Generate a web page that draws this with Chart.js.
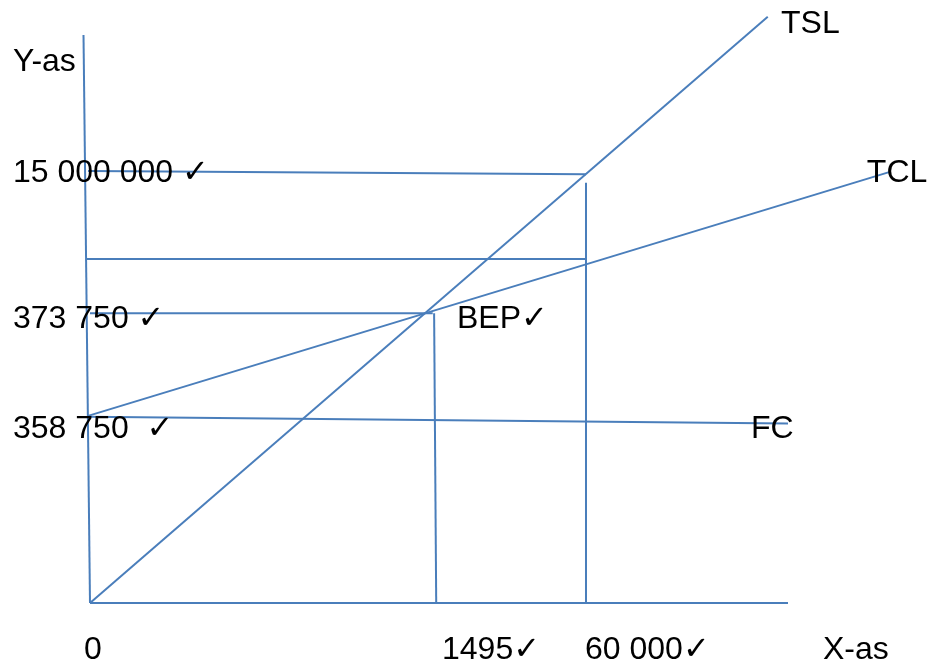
<!DOCTYPE html>
<html>
<head>
<meta charset="utf-8">
<script src="https://cdn.jsdelivr.net/npm/chart.js@4/dist/chart.umd.min.js"></script>
<style>
html,body{margin:0;padding:0;background:#fff;}
#c{display:block;}
</style>
</head>
<body>
<canvas id="c" width="931" height="668"></canvas>
<script>
// Diagram units: origin at the axes' corner, x axis runs to 100, y axis up to 100.
// Each line is [start, end] as [x, y] pairs.
const yAxisLine      = [[-0.93, 100.0], [0, 0]];
const xAxisLine      = [[0, 0], [100.0, 0]];
const tslLine        = [[0, 0], [97.1, 103.2]];
const tclLine        = [[-0.39, 32.9], [114.6, 75.9]];
const fcLine         = [[-0.29, 32.8], [100.0, 31.6]];
const salesLevelLine = [[-0.29, 76.06], [71.06, 75.5]];
const salesDropLine  = [[71.06, 74.0], [71.06, 0]];
const costLevelLine  = [[-0.57, 60.56], [71.06, 60.56]];
const bepLevelLine   = [[0, 51.0], [49.1, 51.0]];
const bepDropLine    = [[49.3, 51.0], [49.6, 0]];

const segments = [yAxisLine, xAxisLine, tslLine, tclLine, fcLine,
                  salesLevelLine, salesDropLine, costLevelLine, bepLevelLine, bepDropLine];

// Text labels and their anchors (left, baseline) in diagram units
const labelTexts   = ["Y-as", "15 000 000 \u2713", "373 750 \u2713", "358 750  \u2713", "BEP\u2713",
                      "FC", "TSL", "TCL", "0", "1495\u2713", "60 000\u2713", "X-as"];
const labelAnchorX = [-11.03, -11.03, -11.03, -11.03, 52.58, 94.70, 99.0, 111.3, -0.86, 50.43, 70.92, 105.0];
const labelAnchorY = [93.66, 74.12, 48.42, 29.05, 48.42, 29.05, 100.35, 74.12, -9.86, -9.86, -9.86, -9.86];

const lineColor = '#4A7EBB';

const datasets = segments.map(seg => ({
  data: seg.map(p => ({x: p[0], y: p[1]})),
  showLine: true,
  borderColor: lineColor,
  borderWidth: 2,
  pointRadius: 0,
  fill: false,
  tension: 0
}));

const labelPlugin = {
  id: 'labels',
  afterDatasetsDraw(chart) {
    const ctx = chart.ctx;
    const xs = chart.scales.x, ys = chart.scales.y;
    ctx.save();
    ctx.fillStyle = '#000';
    ctx.font = '32px "Liberation Sans", Arial, "DejaVu Sans", sans-serif';
    ctx.textAlign = 'left';
    ctx.textBaseline = 'alphabetic';
    labelTexts.forEach((t, i) => {
      ctx.fillText(t, xs.getPixelForValue(labelAnchorX[i]), ys.getPixelForValue(labelAnchorY[i]));
    });
    ctx.restore();
  }
};

new Chart(document.getElementById('c'), {
  type: 'scatter',
  data: { datasets },
  options: {
    responsive: false,
    animation: false,
    devicePixelRatio: 1,
    layout: { padding: 0 },
    plugins: { legend: { display: false }, tooltip: { enabled: false } },
    scales: {
      x: { type: 'linear', display: false, min: -90 / 6.98, max: (931 - 90) / 6.98 },
      y: { type: 'linear', display: false, min: -(668 - 603) / 5.68, max: 603 / 5.68 }
    }
  },
  plugins: [labelPlugin]
});
</script>
</body>
</html>
